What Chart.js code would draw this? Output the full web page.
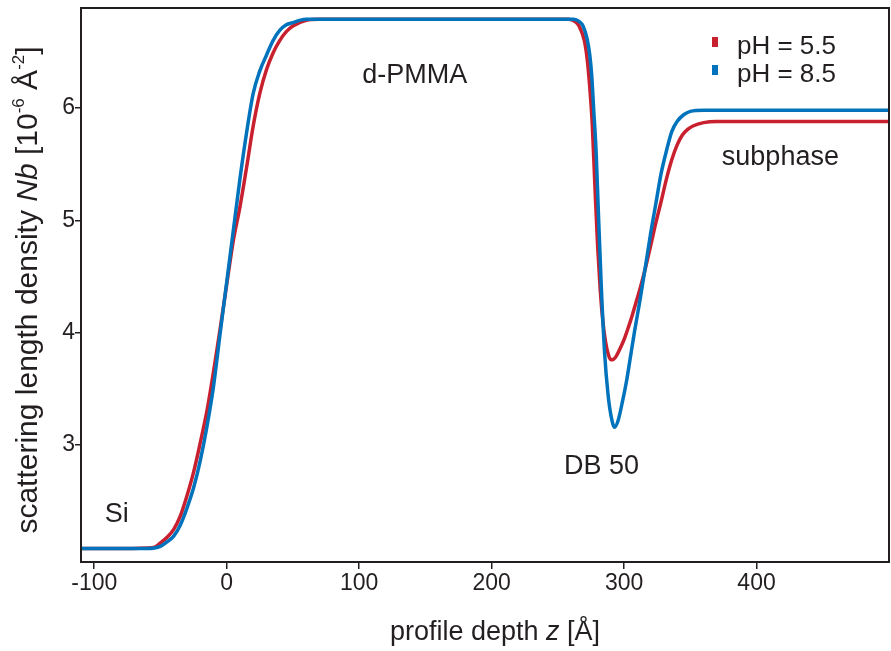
<!DOCTYPE html>
<html>
<head>
<meta charset="utf-8">
<script src="https://cdn.jsdelivr.net/npm/chart.js@4.4.1/dist/chart.umd.min.js"></script>
<style>
  html, body { margin: 0; padding: 0; background: #ffffff; }
  #c { display: block; }
</style>
</head>
<body>
<canvas id="c" width="891" height="651"></canvas>
<script>
// ---- data ----
const depthPH55 = [-110, -80, -60, -55, -50, -45, -40, -35, -30, -25, -20, -15, -10, -5, 0, 5, 10, 15, 20, 25, 30, 35, 40, 45, 50, 60, 70, 100, 200, 258, 263, 266, 270, 272, 274, 276, 278, 280, 282, 284, 286, 288, 290, 292, 294, 297, 300, 303, 306, 309, 312, 316, 320, 324, 328, 332, 336, 340, 344, 348, 352, 360, 370, 400, 500];
const sldPH55   = [2.08, 2.08, 2.085, 2.09, 2.13, 2.18, 2.25, 2.37, 2.55, 2.76, 3.02, 3.30, 3.65, 4.03, 4.43, 4.82, 5.12, 5.47, 5.84, 6.13, 6.34, 6.49, 6.60, 6.68, 6.73, 6.78, 6.79, 6.79, 6.79, 6.79, 6.77, 6.73, 6.60, 6.45, 6.20, 5.85, 5.30, 4.78, 4.38, 4.10, 3.92, 3.81, 3.76, 3.765, 3.79, 3.86, 3.94, 4.04, 4.15, 4.27, 4.39, 4.57, 4.77, 4.98, 5.17, 5.37, 5.54, 5.67, 5.76, 5.81, 5.84, 5.87, 5.88, 5.88, 5.88];

const depthPH85 = [-110, -80, -60, -50, -45, -40, -35, -30, -25, -20, -15, -10, -5, 0, 5, 10, 15, 20, 25, 30, 35, 40, 45, 50, 55, 60, 70, 100, 200, 262, 266, 269, 272, 274, 275.5, 277, 279, 280.5, 282.8, 285.3, 287.8, 290, 292.8, 295.5, 299, 302, 305, 308, 312, 316, 320, 324, 328, 332, 336, 340, 345, 350, 360, 400, 500];
const sldPH85   = [2.08, 2.08, 2.08, 2.10, 2.14, 2.19, 2.29, 2.44, 2.62, 2.86, 3.16, 3.52, 3.99, 4.45, 4.91, 5.37, 5.78, 6.13, 6.33, 6.47, 6.60, 6.69, 6.74, 6.76, 6.78, 6.79, 6.79, 6.79, 6.79, 6.79, 6.77, 6.73, 6.62, 6.48, 6.30, 6.00, 5.58, 5.10, 4.41, 3.82, 3.46, 3.27, 3.16, 3.22, 3.40, 3.58, 3.80, 4.02, 4.29, 4.58, 4.88, 5.15, 5.42, 5.62, 5.79, 5.88, 5.94, 5.97, 5.98, 5.98, 5.98];

const seriesLabels = ['pH = 5.5', 'pH = 8.5'];
const seriesColors = ['#c8202f', '#0073bc'];
const xTickValues = [-100, 0, 100, 200, 300, 400];
const yTickValues = [3, 4, 5, 6];
const annotations = [
  { text: 'd-PMMA', x: 142, y: 6.29 },
  { text: 'Si', x: -83, y: 2.38 },
  { text: 'DB 50', x: 283, y: 2.81 },
  { text: 'subphase', x: 418, y: 5.56 }
];

const FONT = '"Liberation Sans", Arial, Helvetica, sans-serif';
const INK = '#231f20';

function toPoints(xs, ys) { return xs.map((x, i) => ({ x: x, y: ys[i] })); }

function drawRich(ctx, segs, x, y) {
  let total = 0;
  segs.forEach(s => {
    ctx.font = (s.italic ? 'italic ' : '') + s.size + 'px ' + FONT;
    s.w = ctx.measureText(s.t).width;
    total += s.w;
  });
  let cx = x - total / 2;
  segs.forEach(s => {
    ctx.font = (s.italic ? 'italic ' : '') + s.size + 'px ' + FONT;
    ctx.fillText(s.t, cx, y + (s.dy || 0));
    cx += s.w;
  });
}

const decorPlugin = {
  id: 'decor',
  afterDatasetsDraw(chart) {
    const ctx = chart.ctx;
    const a = chart.chartArea;
    const xs = chart.scales.x, ys = chart.scales.y;
    ctx.save();
    ctx.strokeStyle = INK;
    ctx.lineWidth = 2;
    ctx.strokeRect(a.left, a.top, a.right - a.left, a.bottom - a.top);
    ctx.fillStyle = INK;
    ctx.textAlign = 'center';
    ctx.textBaseline = 'middle';
    ctx.font = '27px ' + FONT;
    annotations.forEach(n => {
      ctx.fillText(n.text, xs.getPixelForValue(n.x), ys.getPixelForValue(n.y));
    });
    ctx.textAlign = 'left';
    ctx.textBaseline = 'middle';
    const lx = 712, ly0 = 42, lstep = 28;
    chart.data.datasets.forEach((ds, i) => {
      const yy = ly0 + i * lstep;
      ctx.fillStyle = ds.borderColor;
      ctx.fillRect(lx, yy - 5, 6, 10);
      ctx.fillStyle = INK;
      ctx.font = '26px ' + FONT;
      ctx.fillText(ds.label, lx + 25, yy + 5);
    });
    ctx.textAlign = 'left';
    ctx.textBaseline = 'alphabetic';
    drawRich(ctx, [
      { t: 'profile depth ', size: 27 },
      { t: 'z', size: 27, italic: true },
      { t: ' [Å]', size: 27 }
    ], 495, 640);
    ctx.save();
    ctx.translate(37, 290);
    ctx.rotate(-Math.PI / 2);
    drawRich(ctx, [
      { t: 'scattering length density ', size: 30 },
      { t: 'Nb', size: 30, italic: true },
      { t: ' [10', size: 30 },
      { t: '-6', size: 17, dy: -13 },
      { t: ' Å', size: 30 },
      { t: '-2', size: 17, dy: -13 },
      { t: ']', size: 30 }
    ], 0, 0);
    ctx.restore();
    ctx.restore();
  }
};

new Chart(document.getElementById('c'), {
  type: 'scatter',
  data: {
    datasets: [
      {
        label: seriesLabels[0],
        data: toPoints(depthPH55, sldPH55),
        borderColor: seriesColors[0],
        backgroundColor: seriesColors[0],
        showLine: true, pointRadius: 0, borderWidth: 3.5,
        cubicInterpolationMode: 'monotone', order: 2
      },
      {
        label: seriesLabels[1],
        data: toPoints(depthPH85, sldPH85),
        borderColor: seriesColors[1],
        backgroundColor: seriesColors[1],
        showLine: true, pointRadius: 0, borderWidth: 3.5,
        cubicInterpolationMode: 'monotone', order: 1
      }
    ]
  },
  options: {
    responsive: false,
    animation: false,
    devicePixelRatio: 1,
    layout: { padding: { top: 8, right: 2, left: 0, bottom: 0 } },
    plugins: { legend: { display: false }, tooltip: { enabled: false } },
    scales: {
      x: {
        type: 'linear', min: -110, max: 500,
        afterBuildTicks: s => { s.ticks = xTickValues.map(v => ({ value: v })); },
        afterFit: s => { s.height = 89; s.paddingLeft = 0; s.paddingRight = 0; },
        border: { display: true, color: INK, width: 2 },
        grid: { drawOnChartArea: false, drawTicks: true, tickLength: 7, color: INK, lineWidth: 1.5 },
        ticks: { color: INK, font: { family: FONT, size: 23 }, padding: 1, maxRotation: 0 }
      },
      y: {
        type: 'linear', min: 1.96, max: 6.89,
        afterBuildTicks: s => { s.ticks = yTickValues.map(v => ({ value: v })); },
        afterFit: s => { s.width = 81; s.paddingTop = 0; s.paddingBottom = 0; },
        border: { display: true, color: INK, width: 2 },
        grid: { drawOnChartArea: false, drawTicks: true, tickLength: 6, color: INK, lineWidth: 1.5 },
        ticks: { color: INK, font: { family: FONT, size: 23 }, padding: 0 }
      }
    }
  },
  plugins: [decorPlugin]
});
</script>
</body>
</html>
